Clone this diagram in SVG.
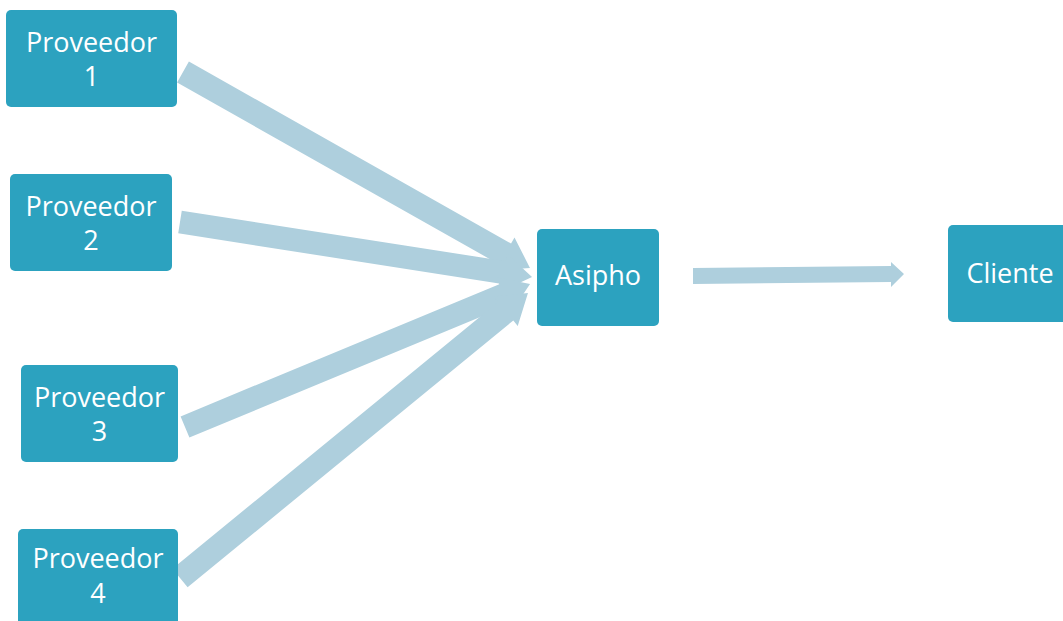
<svg xmlns="http://www.w3.org/2000/svg" width="1063" height="621" viewBox="0 0 1063 621">
<style>
.box{fill:#2ca2bf;}
.t{font-family:"Open Sans","Noto Sans",sans-serif;font-size:27px;fill:#ffffff;text-anchor:middle;}
.arr{fill:#aecfdd;}
</style>
<rect width="1063" height="621" fill="#ffffff"/>
<g id="connectors">
<polygon class="arr" transform="translate(183,72) rotate(29.46)" points="0,-12 370,-12 370,-19 398.5,0 370,19 370,12 0,12"/>
<polygon class="arr" transform="translate(180,222) rotate(8.88)" points="0,-11.5 328,-11.5 328,-19 356.3,0 328,19 328,11.5 0,11.5"/>
<polygon class="arr" transform="translate(185,427) rotate(-22.52)" points="0,-11.5 345,-11.5 345,-19 373.5,0 345,19 345,11.5 0,11.5"/>
<polygon class="arr" transform="translate(180,578) rotate(-39.32)" points="0,-12 421,-12 421,-19 449.8,0 421,19 421,12 0,12"/>
<polygon class="arr" points="693,268 891,266 891,262 904,274 891,287 891,282 693,284"/>
</g>
<g id="p1"><rect class="box" x="6" y="10" width="171" height="97" rx="5"/><text class="t" x="91.5" y="52">Proveedor</text><text class="t" x="91.5" y="86">1</text></g>
<g id="p2"><rect class="box" x="10" y="174" width="162" height="97" rx="5"/><text class="t" x="91" y="216">Proveedor</text><text class="t" x="91" y="250">2</text></g>
<g id="p3"><rect class="box" x="21" y="365" width="157" height="97" rx="5"/><text class="t" x="99.5" y="407">Proveedor</text><text class="t" x="99.5" y="441">3</text></g>
<g id="p4"><rect class="box" x="18" y="529" width="160" height="97" rx="5"/><text class="t" x="98" y="568">Proveedor</text><text class="t" x="98" y="603">4</text></g>
<g id="asipho"><rect class="box" x="537" y="229" width="122" height="97" rx="5"/><text class="t" x="598" y="285">Asipho</text></g>
<g id="cliente"><rect class="box" x="948" y="225" width="125" height="97" rx="5"/><text class="t" x="1010" y="283">Cliente</text></g>
</svg>
